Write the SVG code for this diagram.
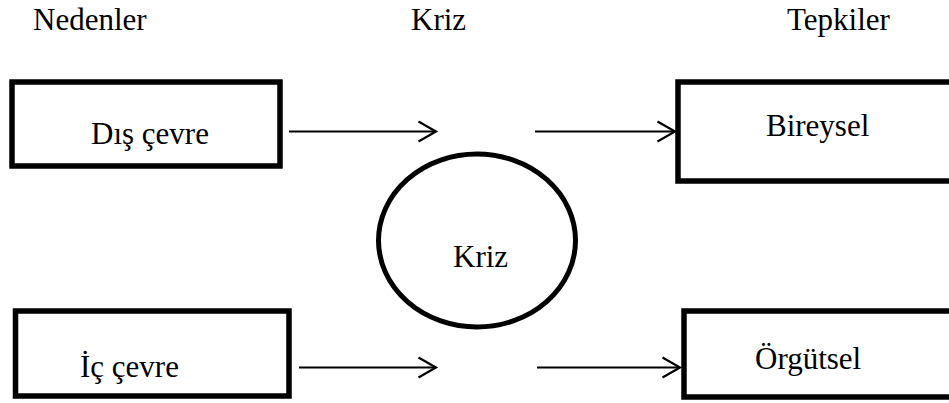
<svg xmlns="http://www.w3.org/2000/svg" width="949" height="403" viewBox="0 0 949 403">
  <style>
    .lbl { font-family: "Liberation Serif", "Times New Roman", serif; font-size: 31px; fill: #000; }
    .box { fill: #fff; stroke: #000; stroke-width: 5.5; }
    .crisis { fill: #fff; stroke: #000; stroke-width: 5; }
    .arrow { fill: none; stroke: #000; stroke-width: 2; marker-end: url(#chevron); }
  </style>
  <defs>
    <marker id="chevron" markerUnits="userSpaceOnUse" orient="auto" overflow="visible" refX="0" refY="0" markerWidth="20" markerHeight="22">
      <path d="M-17.5,-10 L0,0 L-17.5,10" fill="none" stroke="#000" stroke-width="2.2" stroke-linejoin="miter"/>
    </marker>
  </defs>
  <rect width="949" height="403" fill="#fff"/>

  <!-- column headings -->
  <g id="headings">
    <text class="lbl" x="33" y="30">Nedenler</text>
    <text class="lbl" x="411" y="30">Kriz</text>
    <text class="lbl" x="787" y="30">Tepkiler</text>
  </g>

  <!-- causes -->
  <g id="dis-cevre">
    <rect class="box" x="12" y="82" width="268" height="84"/>
    <text class="lbl" x="91" y="144">Dış çevre</text>
  </g>
  <g id="ic-cevre">
    <rect class="box" x="15.5" y="311" width="273.5" height="85"/>
    <text class="lbl" x="80" y="377">İç çevre</text>
  </g>

  <!-- crisis -->
  <g id="kriz">
    <ellipse class="crisis" cx="477" cy="240.5" rx="98.5" ry="86.5"/>
    <text class="lbl" x="453" y="267">Kriz</text>
  </g>

  <!-- responses (boxes run off the right edge) -->
  <g id="bireysel">
    <rect class="box" x="678" y="82" width="290" height="99"/>
    <text class="lbl" x="766" y="136">Bireysel</text>
  </g>
  <g id="orgutsel">
    <rect class="box" x="684" y="311" width="290" height="86"/>
    <text class="lbl" x="755" y="369">Örgütsel</text>
  </g>

  <!-- connectors -->
  <g id="connectors">
    <line class="arrow" x1="289" y1="131.5" x2="436" y2="131.5"/>
    <line class="arrow" x1="535" y1="131.5" x2="675" y2="131.5"/>
    <line class="arrow" x1="299" y1="367.5" x2="436" y2="367.5"/>
    <line class="arrow" x1="537" y1="367.5" x2="680" y2="367.5"/>
  </g>
</svg>
